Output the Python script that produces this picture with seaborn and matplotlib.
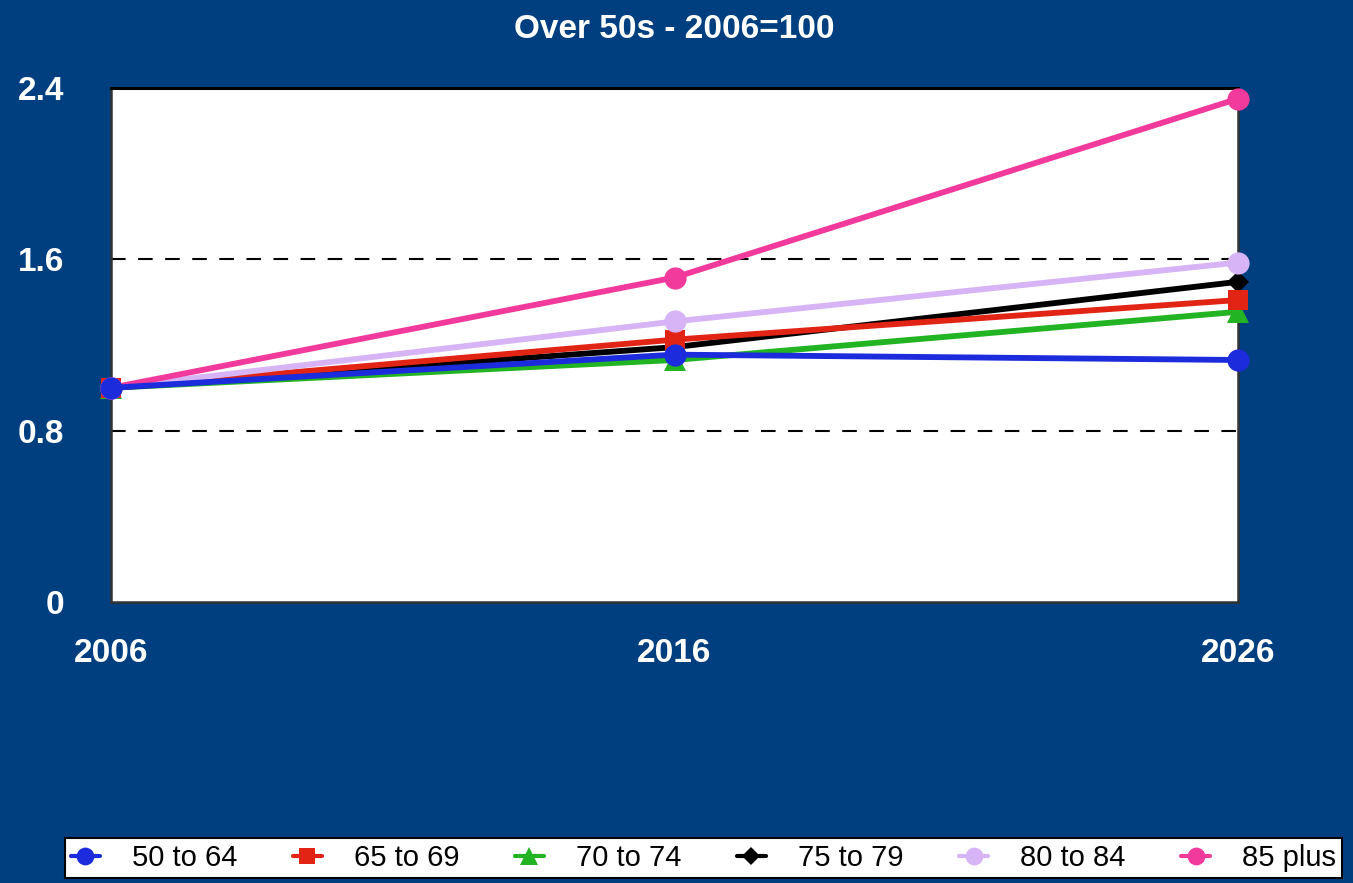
import matplotlib
matplotlib.use("Agg")
import matplotlib.pyplot as plt
import seaborn as sns
import pandas as pd
from matplotlib.lines import Line2D

years = ["2006", "2016", "2026"]
groups = ["50 to 64", "65 to 69", "70 to 74", "75 to 79", "80 to 84", "85 plus"]
v_50_64 = [1.0, 1.155, 1.13]
v_65_69 = [1.0, 1.225, 1.41]
v_70_74 = [1.0, 1.13, 1.355]
v_75_79 = [1.0, 1.19, 1.495]
v_80_84 = [1.0, 1.31, 1.585]
v_85_plus = [1.0, 1.515, 2.35]
yticks = [0, 0.8, 1.6, 2.4]

series = [v_50_64, v_65_69, v_70_74, v_75_79, v_80_84, v_85_plus]
colors = ["#1c2bdc", "#e22414", "#22b422", "#000000", "#d6b4f6", "#f23a9c"]
markers = ["o", "s", "^", "D", "o", "o"]
msizes = [16, 15, 16, 11, 16, 16]

rows = []
for g, vals in zip(groups, series):
    for i, (y, v) in enumerate(zip(years, vals)):
        rows.append({"group": g, "pos": i, "year": y, "value": v})
df = pd.DataFrame(rows)

sns.set_theme(style="white")
plt.rcParams['font.family'] = ['Liberation Sans', 'DejaVu Sans']
bg = "#003f7f"
fig = plt.figure(figsize=(13.53, 8.83), dpi=100, facecolor=bg)
ax = fig.add_axes([111/1353, 1-602/883, (1238-111)/1353, (602-88)/883])
ax.set_facecolor("white")

draw_order = [2, 3, 1, 4, 5, 0]
zs = {2: 3, 3: 4, 1: 5, 4: 6, 5: 7, 0: 8}
for idx in draw_order:
    sub = df[df["group"] == groups[idx]]
    sns.lineplot(data=sub, x="pos", y="value", ax=ax, color=colors[idx],
                 marker=markers[idx], markersize=msizes[idx], linewidth=4.2,
                 markeredgewidth=0, zorder=zs[idx], legend=False, clip_on=False)

for yv in [0.8, 1.6]:
    ax.axhline(yv, color="black", lw=1.5, dashes=(7, 6), zorder=1)

ax.set_xlim(0, 2)
ax.set_ylim(0, 2.4)
ax.set_yticks(yticks)
ax.set_yticklabels(["0", "0.8", "1.6", "2.4"])
ax.set_xticks(range(len(years)))
ax.set_xticklabels(years)
ax.set_xlabel("")
ax.set_ylabel("")
ax.tick_params(axis="y", length=0, pad=34, labelsize=24, labelcolor="white")
ax.tick_params(axis="x", length=4, width=2.5, color="#222222", direction="out",
               pad=22, labelsize=24, labelcolor="white")
for lab in ax.get_xticklabels() + ax.get_yticklabels():
    lab.set_fontweight("bold")
for s in ["left", "right", "bottom"]:
    ax.spines[s].set_color("#333333")
    ax.spines[s].set_linewidth(1.8)
    ax.spines[s].set_visible(True)
ax.spines["top"].set_color("black")
ax.spines["top"].set_linewidth(2.2)
ax.spines["top"].set_visible(True)

fig.text(674/1353, 1-30/883, "Over 50s - 2006=100", color="white", fontsize=24,
         fontweight="bold", ha="center", va="center")

handles = [Line2D([0], [0], color=c, marker=m, markersize=ms*0.8, lw=3, markeredgewidth=0)
           for c, m, ms in zip(colors, markers, msizes)]
leg = fig.legend(handles, groups, loc="center", bbox_to_anchor=(703.5/1353, 1-858/883),
                 ncol=6, frameon=True, fancybox=False, edgecolor="black",
                 facecolor="white", framealpha=1.0,
                 handlelength=1.0, handletextpad=1.1, columnspacing=1.9,
                 borderpad=0.2, prop={"size": 21})
for t in leg.get_texts():
    t.set_color("black")
leg.get_frame().set_linewidth(1.5)

fig.savefig("out.png", dpi=100, facecolor=bg)
